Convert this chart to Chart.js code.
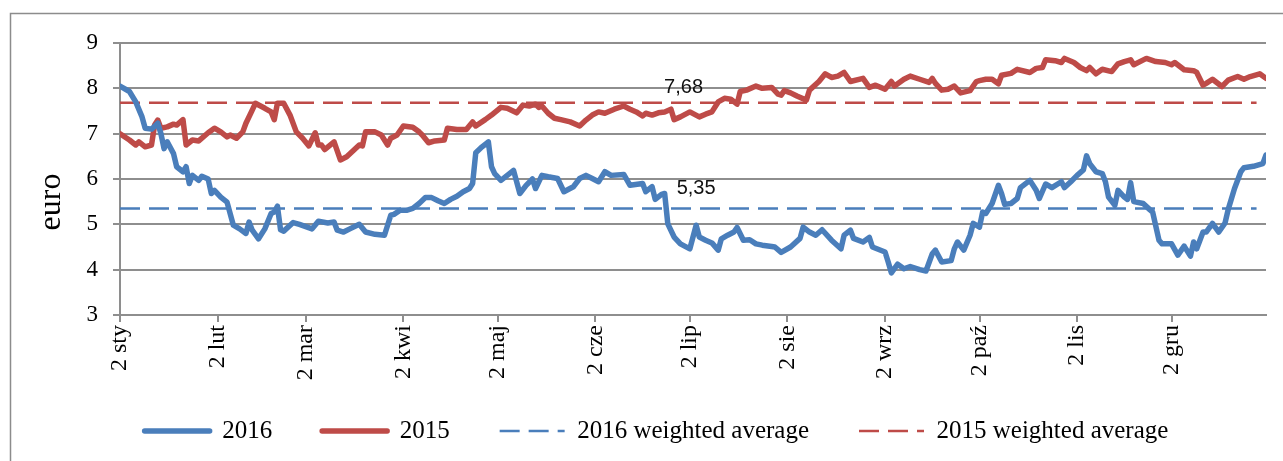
<!DOCTYPE html>
<html>
<head>
<meta charset="utf-8">
<script src="https://cdn.jsdelivr.net/npm/chart.js@4.4.0/dist/chart.umd.min.js"></script>
<style>
  html, body { margin: 0; padding: 0; background: #fff; }
</style>
</head>
<body>
<canvas id="myChart" width="1283" height="461"></canvas>
<script>
// x values are day offsets counted from 2 January
var monthDays = [0, 31, 59, 90, 120, 151, 181, 212, 243, 273, 304, 334];
var monthLabels = ['2 sty', '2 lut', '2 mar', '2 kwi', '2 maj', '2 cze', '2 lip', '2 sie', '2 wrz', '2 paź', '2 lis', '2 gru'];

var days2016 = [0, 3, 5, 7, 8, 10, 12, 13, 14, 15, 17, 18, 20, 21, 22, 23, 25, 26, 28, 29, 30, 32, 34, 36, 38, 40, 41, 42, 44, 46, 48, 49, 50, 51, 52, 55, 57, 61, 63, 66, 68, 69, 71, 73, 76, 78, 81, 84, 86, 87, 89, 91, 93, 95, 97, 99, 101, 103, 105, 107, 109, 111, 112, 113, 115, 117, 118, 119, 121, 123, 125, 127, 129, 131, 132, 134, 136, 139, 141, 144, 146, 148, 150, 152, 154, 156, 160, 162, 166, 167, 169, 170, 172, 173, 174, 176, 178, 181, 183, 184, 186, 188, 190, 191, 193, 195, 196, 198, 200, 202, 204, 207, 208, 210, 213, 216, 217, 219, 221, 223, 226, 229, 230, 232, 233, 236, 238, 239, 243, 244, 245, 247, 249, 251, 254, 256, 258, 259, 261, 264, 265, 266, 268, 270, 271, 273, 274, 275, 277, 279, 280, 281, 283, 285, 286, 289, 291, 292, 294, 296, 299, 300, 302, 304, 306, 307, 308, 310, 312, 313, 314, 316, 317, 319, 320, 321, 322, 325, 327, 328, 330, 331, 334, 336, 338, 340, 341, 342, 344, 345, 347, 349, 351, 352, 354, 356, 357, 360, 363, 364];
var values2016 = [8.05, 7.93, 7.7, 7.37, 7.12, 7.1, 7.23, 7.0, 6.67, 6.82, 6.56, 6.27, 6.16, 6.27, 5.9, 6.08, 5.97, 6.06, 6.0, 5.68, 5.75, 5.6, 5.49, 4.98, 4.9, 4.8, 5.05, 4.87, 4.68, 4.9, 5.24, 5.27, 5.4, 4.88, 4.85, 5.04, 5.0, 4.9, 5.07, 5.03, 5.05, 4.87, 4.83, 4.9, 5.0, 4.83, 4.78, 4.76, 5.2, 5.22, 5.31, 5.31, 5.35, 5.46, 5.59, 5.59, 5.52, 5.46, 5.55, 5.62, 5.72, 5.79, 5.9, 6.58, 6.71, 6.82, 6.27, 6.12, 5.97, 6.08, 6.19, 5.68, 5.86, 6.0, 5.79, 6.08, 6.05, 6.01, 5.72, 5.83, 6.01, 6.08, 6.01, 5.94, 6.16, 6.08, 6.1, 5.86, 5.9, 5.72, 5.83, 5.55, 5.66, 5.68, 5.01, 4.72, 4.57, 4.46, 4.98, 4.72, 4.65, 4.59, 4.43, 4.68, 4.76, 4.83, 4.93, 4.65, 4.66, 4.57, 4.54, 4.51, 4.5, 4.38, 4.5, 4.69, 4.94, 4.83, 4.76, 4.88, 4.65, 4.46, 4.76, 4.87, 4.69, 4.61, 4.71, 4.5, 4.39, 4.17, 3.93, 4.12, 4.02, 4.07, 4.0, 3.97, 4.35, 4.43, 4.17, 4.2, 4.46, 4.61, 4.43, 4.76, 5.02, 4.94, 5.27, 5.24, 5.46, 5.86, 5.68, 5.44, 5.46, 5.57, 5.81, 5.97, 5.75, 5.57, 5.89, 5.81, 5.94, 5.81, 5.94, 6.08, 6.2, 6.51, 6.34, 6.16, 6.12, 5.94, 5.6, 5.42, 5.75, 5.6, 5.55, 5.92, 5.5, 5.46, 5.33, 5.27, 4.65, 4.57, 4.57, 4.32, 4.52, 4.3, 4.61, 4.46, 4.83, 4.83, 5.02, 4.83, 5.03, 5.33, 5.79, 6.16, 6.25, 6.28, 6.34, 6.53];

var days2015 = [0, 3, 5, 6, 8, 10, 11, 12, 13, 15, 17, 18, 20, 21, 23, 25, 28, 30, 32, 34, 35, 37, 39, 40, 42, 43, 46, 48, 49, 50, 52, 54, 56, 58, 60, 62, 63, 64, 65, 68, 70, 72, 76, 77, 78, 81, 83, 85, 86, 88, 90, 93, 95, 96, 98, 100, 103, 104, 107, 110, 112, 113, 116, 118, 121, 123, 126, 128, 130, 132, 133, 134, 136, 138, 140, 143, 146, 148, 150, 152, 154, 157, 160, 162, 164, 166, 167, 169, 171, 173, 175, 176, 178, 181, 184, 186, 188, 190, 192, 194, 196, 197, 199, 202, 204, 207, 209, 210, 211, 213, 215, 218, 219, 222, 224, 226, 228, 230, 232, 236, 238, 240, 243, 245, 246, 249, 251, 254, 257, 258, 259, 261, 263, 265, 267, 270, 272, 273, 275, 277, 279, 280, 283, 285, 289, 291, 293, 294, 297, 299, 300, 303, 305, 307, 308, 310, 312, 315, 317, 319, 321, 322, 326, 329, 332, 334, 335, 338, 341, 342, 344, 345, 347, 350, 352, 355, 357, 359, 362, 364];
var values2015 = [7.0, 6.86, 6.75, 6.82, 6.71, 6.75, 7.19, 7.3, 7.12, 7.15, 7.21, 7.19, 7.31, 6.75, 6.86, 6.84, 7.02, 7.12, 7.04, 6.93, 6.97, 6.9, 7.04, 7.23, 7.52, 7.67, 7.56, 7.48, 7.31, 7.67, 7.67, 7.41, 7.04, 6.9, 6.73, 7.02, 6.75, 6.75, 6.65, 6.82, 6.42, 6.49, 6.75, 6.73, 7.04, 7.04, 6.97, 6.75, 6.9, 6.97, 7.17, 7.14, 7.04, 6.97, 6.8, 6.84, 6.86, 7.12, 7.09, 7.09, 7.26, 7.17, 7.31, 7.41, 7.58, 7.56, 7.46, 7.63, 7.61, 7.65, 7.58, 7.61, 7.45, 7.34, 7.31, 7.26, 7.17, 7.3, 7.41, 7.48, 7.45, 7.54, 7.61, 7.54, 7.48, 7.39, 7.45, 7.41, 7.46, 7.48, 7.54, 7.31, 7.37, 7.48, 7.37, 7.43, 7.48, 7.7, 7.78, 7.76, 7.65, 7.93, 7.96, 8.05, 8.0, 8.02, 7.87, 7.85, 7.95, 7.9, 7.83, 7.74, 7.96, 8.15, 8.32, 8.24, 8.27, 8.35, 8.15, 8.22, 8.02, 8.07, 7.98, 8.15, 8.05, 8.2, 8.27, 8.2, 8.13, 8.22, 8.11, 7.96, 7.98, 8.05, 7.9, 7.95, 8.15, 8.17, 8.2, 8.2, 8.1, 8.29, 8.33, 8.42, 8.35, 8.44, 8.46, 8.63, 8.61, 8.57, 8.66, 8.57, 8.46, 8.39, 8.46, 8.32, 8.42, 8.37, 8.54, 8.59, 8.63, 8.52, 8.66, 8.59, 8.57, 8.52, 8.57, 8.41, 8.39, 8.35, 8.07, 8.11, 8.2, 8.04, 8.18, 8.26, 8.2, 8.26, 8.32, 8.22];

var avg2016 = 5.35;
var avg2015 = 7.68;
var avgSpan = [0, 361];
var avgLabelDays = [183, 179];

function toPoints(xs, ys) {
    return xs.map(function (x, i) { return {x: x, y: ys[i]}; });
}
function flatLine(v) {
    return avgSpan.map(function (x) { return {x: x, y: v}; });
}
function fmt(v) {
    return v.toFixed(2).replace('.', ',');
}

var blue = '#4a7ebb';
var red = '#be4b48';
var gridColor = '#8e8e8e';
var serif = "'Liberation Serif', 'Times New Roman', serif";

const data = {
    datasets: [{
        label: '2016',
        data: toPoints(days2016, values2016),
        borderColor: blue,
        backgroundColor: blue,
        borderWidth: 5.5,
        borderCapStyle: 'round',
        borderJoinStyle: 'round'
    }, {
        label: '2015',
        data: toPoints(days2015, values2015),
        borderColor: red,
        backgroundColor: red,
        borderWidth: 5.5,
        borderCapStyle: 'round',
        borderJoinStyle: 'round'
    }, {
        label: '2016 weighted average',
        data: flatLine(avg2016),
        borderColor: blue,
        backgroundColor: blue,
        borderWidth: 2.5,
        borderDash: [20, 9]
    }, {
        label: '2015 weighted average',
        data: flatLine(avg2015),
        borderColor: red,
        backgroundColor: red,
        borderWidth: 2.5,
        borderDash: [20, 9]
    }]
};

// frame round the whole chart, "euro" title and the average labels
const extras = {
    id: 'extras',
    afterLayout: function (chart) {
        // let the rotated month labels run down into the legend band
        chart.scales.x.bottom = chart.height;
    },
    beforeDraw: function (chart) {
        var ctx = chart.ctx;
        ctx.save();
        ctx.strokeStyle = '#8c8c8c';
        ctx.lineWidth = 1.5;
        ctx.strokeRect(10.5, 13.5, 1300, 480);
        ctx.restore();
    },
    afterDraw: function (chart) {
        var ctx = chart.ctx;
        var area = chart.chartArea;
        var xs = chart.scales.x, ys = chart.scales.y;
        ctx.save();
        ctx.fillStyle = '#000';
        ctx.font = '32px ' + serif;
        ctx.translate(area.left - 60, (area.top + area.bottom) / 2 + 23);
        ctx.rotate(-Math.PI / 2);
        ctx.textAlign = 'center';
        ctx.textBaseline = 'alphabetic';
        ctx.fillText('euro', 0, 0);
        ctx.restore();

        ctx.save();
        ctx.fillStyle = '#111';
        ctx.font = "20px 'Liberation Sans', Arial, sans-serif";
        ctx.textAlign = 'center';
        ctx.textBaseline = 'middle';
        ctx.fillText(fmt(avg2016), xs.getPixelForValue(avgLabelDays[0]), ys.getPixelForValue(avg2016) - 20);
        ctx.fillText(fmt(avg2015), xs.getPixelForValue(avgLabelDays[1]), ys.getPixelForValue(avg2015) - 15);
        ctx.restore();
    }
};

const config = {
    type: 'line',
    data: data,
    plugins: [extras],
    options: {
        responsive: false,
        animation: false,
        layout: {
            padding: { top: 43, left: 30, right: 0, bottom: 7.5 }
        },
        elements: {
            point: { radius: 0, hoverRadius: 0 },
            line: { tension: 0 }
        },
        plugins: {
            tooltip: { enabled: false },
            legend: {
                position: 'bottom',
                labels: {
                    usePointStyle: true,
                    pointStyle: 'line',
                    pointStyleWidth: 65,
                    padding: 50,
                    color: '#000',
                    font: { family: serif, size: 25 },
                    generateLabels: function (chart) {
                        var items = Chart.defaults.plugins.legend.labels.generateLabels(chart);
                        items.forEach(function (it) {
                            var ds = chart.data.datasets[it.datasetIndex];
                            it.lineDash = ds.borderDash || [];
                            it.lineCap = ds.borderCapStyle || 'butt';
                            it.lineWidth = ds.borderWidth;
                        });
                        return items;
                    }
                }
            }
        },
        scales: {
            x: {
                type: 'linear',
                min: 0,
                max: 364,
                afterBuildTicks: function (scale) {
                    scale.ticks = monthDays.map(function (d) { return {value: d}; });
                },
                afterFit: function (scale) { scale.height = 53.5; },
                grid: {
                    drawOnChartArea: false,
                    drawTicks: true,
                    tickLength: 7,
                    color: gridColor,
                    lineWidth: 2
                },
                border: { display: true, color: gridColor, width: 2 },
                ticks: {
                    autoSkip: false,
                    maxRotation: 90,
                    minRotation: 90,
                    padding: 3,
                    color: '#000',
                    font: { family: serif, size: 24 },
                    callback: function (v) { return monthLabels[monthDays.indexOf(v)]; }
                }
            },
            y: {
                min: 3,
                max: 9,
                afterFit: function (scale) { scale.width = 90; },
                grid: {
                    tickLength: 7,
                    color: gridColor,
                    lineWidth: 2
                },
                border: { display: true, color: gridColor, width: 2 },
                ticks: {
                    stepSize: 1,
                    padding: 15,
                    color: '#000',
                    font: { family: serif, size: 23 }
                }
            },
            yRight: {
                position: 'right',
                afterFit: function (scale) { scale.width = 17; },
                grid: { display: false },
                border: { display: false },
                ticks: { display: false }
            }
        }
    }
};

var ctx = document.getElementById("myChart").getContext("2d");
var myNewChart = new Chart(ctx, config);
</script>
</body>
</html>
